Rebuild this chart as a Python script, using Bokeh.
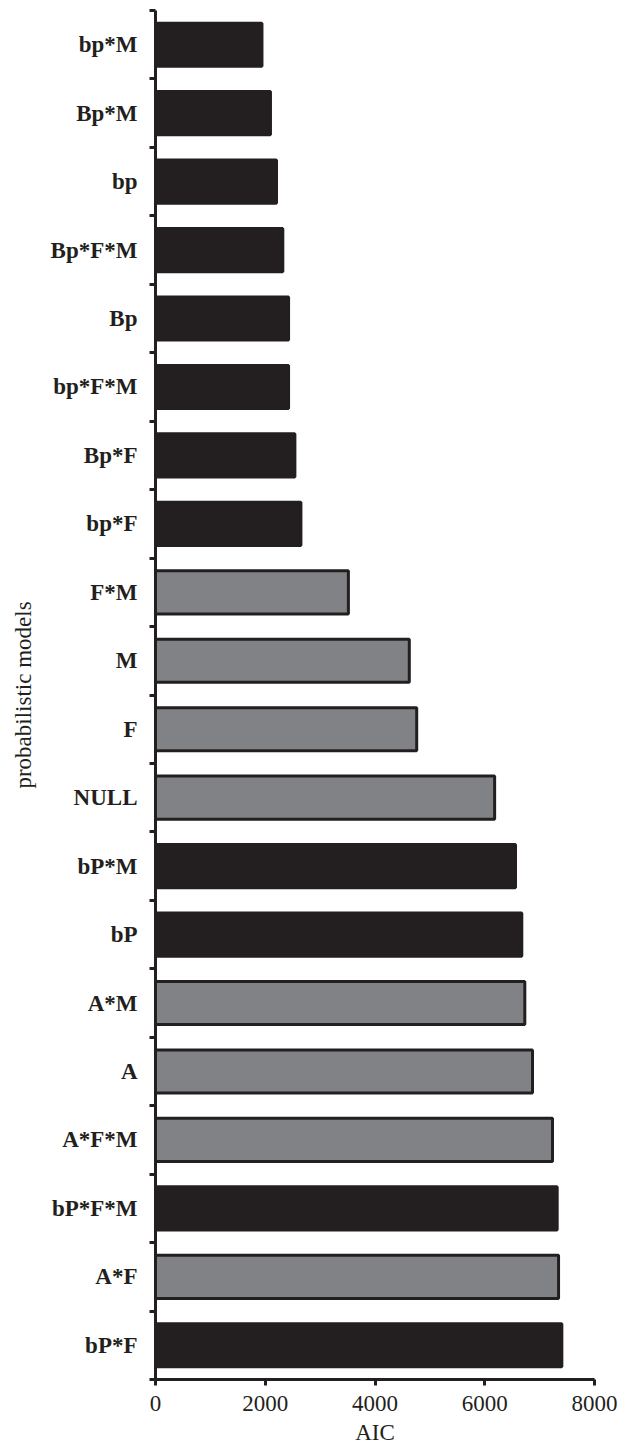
from bokeh.plotting import figure
from bokeh.models import ColumnDataSource, Range1d, FixedTicker, LinearAxis
from bokeh.transform import factor_cmap
from bokeh.embed import file_html
from bokeh.resources import INLINE

# ---- data ----
models = ["bp*M", "Bp*M", "bp", "Bp*F*M", "Bp", "bp*F*M", "Bp*F", "bp*F",
          "F*M", "M", "F", "NULL", "bP*M", "bP", "A*M", "A", "A*F*M",
          "bP*F*M", "A*F", "bP*F"]
aic = [1940, 2095, 2205, 2320, 2425, 2425, 2540, 2650,
       3515, 4625, 4760, 6180, 6560, 6675, 6730, 6870, 7235,
       7320, 7345, 7405]
group = ["black", "black", "black", "black", "black", "black", "black", "black",
         "gray", "gray", "gray", "gray", "black", "black", "gray", "gray", "gray",
         "black", "gray", "black"]
x_ticks = [0, 2000, 4000, 6000, 8000]

INK = "#231f20"
GRAY = "#818285"
FONT = "Liberation Serif"

pos = list(range(1, len(models) + 1))
src = ColumnDataSource(dict(y=pos, aic=aic, group=group, model=models))

p = figure(width=630, height=1447, output_backend="svg", toolbar_location=None,
           x_range=Range1d(0, 8000), y_range=Range1d(len(models) + 0.5, 0.5),
           min_border_left=155, min_border_right=36, min_border_top=10,
           min_border_bottom=67, y_axis_location=None)

p.hbar(y="y", right="aic", left=0, height=0.63, source=src,
       fill_color=factor_cmap("group", [INK, GRAY], ["black", "gray"]),
       line_color=INK, line_width=3)

# y axis: labels at row centres, ticks at row boundaries
yaxis = LinearAxis(
    ticker=FixedTicker(ticks=pos, minor_ticks=[i + 0.5 for i in range(0, len(models) + 1)]),
    major_label_overrides={i: m for i, m in zip(pos, models)},
    axis_label="probabilistic models")
yaxis.axis_line_color = INK
yaxis.axis_line_width = 3
yaxis.major_tick_out = 0
yaxis.major_tick_in = 0
yaxis.minor_tick_out = 6
yaxis.minor_tick_in = 0
yaxis.minor_tick_line_color = INK
yaxis.minor_tick_line_width = 3
yaxis.major_label_standoff = 12
yaxis.major_label_text_font = FONT
yaxis.major_label_text_font_style = "bold"
yaxis.major_label_text_font_size = "23px"
yaxis.major_label_text_color = INK
yaxis.axis_label_text_font = FONT
yaxis.axis_label_text_font_style = "normal"
yaxis.axis_label_text_font_size = "23px"
yaxis.axis_label_text_color = INK
yaxis.axis_label_standoff = 12
p.add_layout(yaxis, "left")

xa = p.xaxis[0]
xa.ticker = FixedTicker(ticks=x_ticks, minor_ticks=[])
xa.axis_label = "AIC"
xa.axis_line_color = INK
xa.axis_line_width = 3
xa.major_tick_out = 6
xa.major_tick_in = 0
xa.major_tick_line_color = INK
xa.major_tick_line_width = 3
xa.minor_tick_out = 0
xa.minor_tick_in = 0
xa.major_label_standoff = 10
xa.major_label_text_font = FONT
xa.major_label_text_font_size = "23px"
xa.major_label_text_color = INK
xa.axis_label_text_font = FONT
xa.axis_label_text_font_style = "normal"
xa.axis_label_text_font_size = "23px"
xa.axis_label_text_color = INK
xa.axis_label_standoff = 6

p.xgrid.visible = False
p.ygrid.visible = False
p.outline_line_color = None
p.background_fill_color = "white"
p.border_fill_color = "white"

open("out.html", "w").write(file_html(p, INLINE))
